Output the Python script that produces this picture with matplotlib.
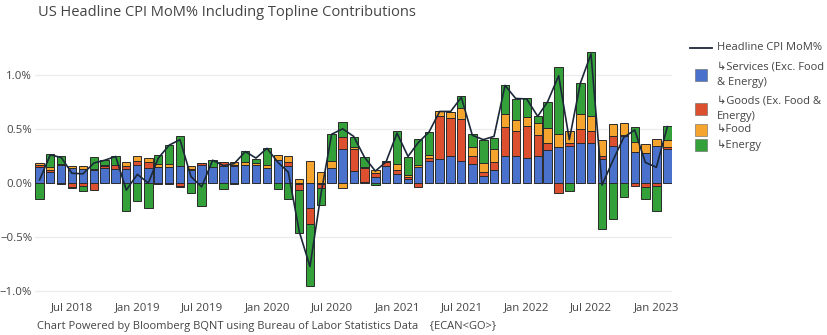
import matplotlib
matplotlib.use("Agg")
import matplotlib.pyplot as plt
import matplotlib.dates as mdates
from matplotlib.lines import Line2D
from matplotlib.ticker import FuncFormatter
import numpy as np
import pandas as pd

plt.rcParams['font.family'] = ['Open Sans', 'DejaVu Sans']

# Monthly observations, Mar 2018 .. Jan 2023 (month-end dates)
dates = pd.date_range("2018-03-31", "2023-01-31", freq="ME")

services = [0.15, 0.10, 0.17, 0.135, 0.13, 0.12, 0.14, 0.13, 0.13, 0.165,
            0.135, 0.145, 0.15, 0.16, 0.12, 0.165, 0.145, 0.16, 0.16, 0.165,
            0.165, 0.135, 0.215, 0.16, -0.01, -0.23, -0.01, 0.135, 0.31, 0.11,
            0.01, 0.06, 0.16, 0.08, 0.04, 0.145, 0.205, 0.225, 0.245, 0.20,
            0.175, 0.065, 0.12, 0.25, 0.25, 0.235, 0.245, 0.305, 0.335, 0.345,
            0.37, 0.365, 0.22, 0.34, 0.43, 0.29, 0.28, 0.345, 0.31]
goods = [0.02, 0.02, -0.005, -0.04, -0.03, -0.06, 0.02, 0.035, 0.025, 0.035,
         0.055, -0.01, -0.005, -0.025, 0.005, 0.02, 0.0, 0.035, 0.01, 0.0,
         0.0, 0.0, 0.0, 0.035, -0.05, -0.15, -0.04, 0.0, 0.11, 0.205,
         0.13, 0.03, 0.03, 0.04, 0.015, -0.035, 0.03, 0.39, 0.35, 0.39,
         0.075, 0.035, 0.075, 0.265, 0.23, 0.29, 0.20, 0.065, -0.09, 0.025,
         0.13, 0.115, 0.025, 0.09, 0.01, -0.025, -0.04, -0.025, 0.025]
food = [0.015, 0.025, 0.005, 0.02, 0.03, 0.01, 0.005, 0.005, 0.04, 0.05,
        0.04, 0.03, 0.03, -0.015, 0.03, 0.0, 0.0, 0.0, 0.02, 0.03,
        0.02, 0.03, 0.04, 0.05, 0.04, 0.20, 0.10, 0.07, -0.045, 0.02,
        0.01, 0.03, 0.01, 0.06, 0.015, 0.02, 0.02, 0.045, 0.06, 0.10,
        0.085, 0.085, 0.12, 0.125, 0.105, 0.085, 0.11, 0.14, 0.12, 0.11,
        0.14, 0.135, 0.15, 0.115, 0.11, 0.09, 0.08, 0.06, 0.065]
energy = [-0.15, 0.12, 0.07, -0.01, -0.04, 0.11, 0.05, 0.075, -0.26, -0.165,
          -0.23, 0.08, 0.17, 0.275, -0.095, -0.215, 0.07, -0.055, -0.01, 0.10,
          0.04, 0.16, -0.055, -0.145, -0.40, -0.57, -0.15, 0.25, 0.14, 0.09,
          0.09, -0.02, 0.0, 0.30, 0.17, 0.245, 0.215, 0.0, 0.0, 0.11,
          0.12, 0.215, 0.10, 0.265, 0.19, 0.175, 0.06, 0.24, 0.615, -0.075,
          0.28, 0.59, -0.42, -0.33, -0.13, 0.135, -0.11, -0.235, 0.13]
headline = [0.03, 0.26, 0.235, 0.09, 0.085, 0.185, 0.21, 0.245, -0.065, 0.08,
            0.0, 0.23, 0.35, 0.40, 0.06, -0.035, 0.21, 0.16, 0.18, 0.29,
            0.23, 0.32, 0.19, 0.10, -0.45, -0.77, -0.10, 0.45, 0.50, 0.43,
            0.24, 0.11, 0.195, 0.46, 0.245, 0.37, 0.47, 0.66, 0.66, 0.79,
            0.44, 0.40, 0.43, 0.90, 0.78, 0.775, 0.615, 0.75, 0.99, 0.40,
            0.92, 1.19, -0.02, 0.21, 0.42, 0.49, 0.19, 0.145, 0.52]

series_names = ["\u21b3Services (Exc. Food\n& Energy)", "\u21b3Goods (Ex. Food &\nEnergy)",
                "\u21b3Food", "\u21b3Energy"]
line_name = "Headline CPI MoM%"
colors = ["#4a72cc", "#dc5030", "#f5a52e", "#34a03a"]
line_color = "#1b2838"

title = "US Headline CPI MoM% Including Topline Contributions"
footer = "Chart Powered by Bloomberg BQNT using Bureau of Labor Statistics Data    {ECAN<GO>}"

W, H = 828, 335
fig = plt.figure(figsize=(W / 100, H / 100), dpi=100)
ax = fig.add_axes([35 / W, 1 - 298 / H, (672 - 35) / W, (298 - 48) / H])

x = mdates.date2num(dates)
width = 23.5
pos_bottom = np.zeros(len(x))
neg_bottom = np.zeros(len(x))
for vals, c in zip([services, goods, food, energy], colors):
    v = np.asarray(vals, dtype=float)
    bottom = np.where(v >= 0, pos_bottom, neg_bottom)
    ax.bar(x, v, width=width, bottom=bottom, color=c, edgecolor="#2a2a2a",
           linewidth=0.7, zorder=2)
    pos_bottom = pos_bottom + np.where(v >= 0, v, 0)
    neg_bottom = neg_bottom + np.where(v < 0, v, 0)

ax.plot(x, headline, color=line_color, lw=1.2, zorder=3)

ax.set_xlim(x[0] - 13, x[-1] + 13)
ax.set_ylim(-1.06, 1.245)
ax.set_yticks([-1.0, -0.5, 0.0, 0.5, 1.0])
ax.yaxis.set_major_formatter(FuncFormatter(lambda v, p: f"{v:.1f}%".replace("-", "\u2212")))
ax.xaxis.set_major_locator(mdates.MonthLocator(bymonth=[1, 7]))
ax.xaxis.set_major_formatter(mdates.DateFormatter("%b %Y"))
ax.grid(axis="y", color="#ebebeb", lw=0.9, zorder=0)
ax.set_axisbelow(True)
for s in ax.spines.values():
    s.set_visible(False)
ax.tick_params(axis="both", length=0, labelsize=8.2, labelcolor="#444444")
ax.tick_params(axis="x", pad=3)
ax.tick_params(axis="y", pad=2)

fig.text(38 / W, 1 - 12 / H, title, fontsize=10.5, color="#444444", va="center", ha="left")
fig.text(37 / W, 1 - 326 / H, footer, fontsize=8.0, color="#444444", va="center", ha="left")

# Legend drawn in figure pixel coordinates
def fy(py):
    return 1 - py / H

text_x = 717 / W
fig.add_artist(Line2D([690 / W, 712 / W], [fy(48), fy(48)], color=line_color, lw=1.3,
                      transform=fig.transFigure))
fig.text(text_x, fy(48), line_name, fontsize=8.0, color="#444444", va="center", ha="left")
legend_rows = [75, 109, 130, 145]
for name, c, py in zip(series_names, colors, legend_rows):
    fig.add_artist(Line2D([701 / W], [fy(py)], marker="s", linestyle="none", markersize=9,
                          markerfacecolor=c, markeredgecolor="#666666", markeredgewidth=0.4,
                          transform=fig.transFigure))
    fig.text(text_x, fy(py), name, fontsize=8.0, color="#444444", va="center", ha="left",
             linespacing=1.55)

fig.savefig("out.png", dpi=100)
